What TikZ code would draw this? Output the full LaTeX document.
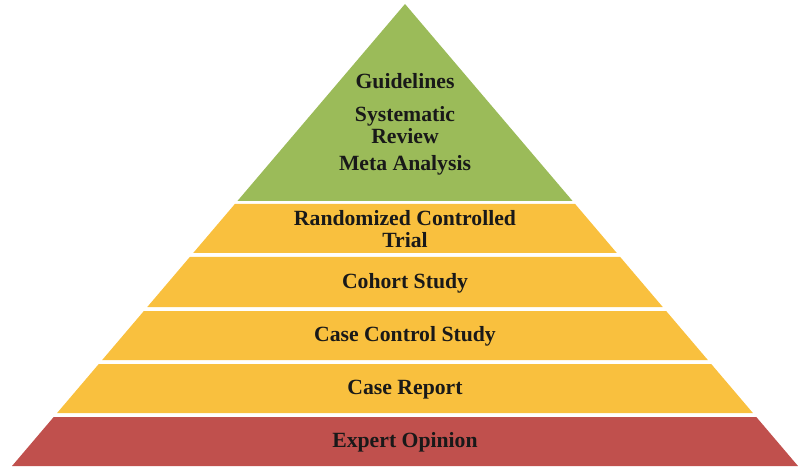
\documentclass[tikz,border=0pt]{standalone}
\usepackage{fontspec}
\setmainfont{Liberation Serif}
\usepackage{xcolor}
\usepackage{tikz}
\usetikzlibrary{calc}
\definecolor{topgreen}{HTML}{9BBB59}
\definecolor{midyellow}{HTML}{F9C03E}
\definecolor{basered}{HTML}{C0504D}
\tikzset{
  tierlabel/.style={font=\fontsize{21.7}{22}\selectfont\bfseries, text=black!90,
                    align=center, inner sep=0pt},
  baselabel/.style={tierlabel, anchor=base}
}

\begin{document}
\begin{tikzpicture}[x=1pt,y=1pt]
  \useasboundingbox (0,0) rectangle (799,466);
  % tiers, bottom to top
  \foreach \lo/\hi/\col in {0/49/basered, 53/102/midyellow, 106/155/midyellow,
                             159/209/midyellow, 213/262/midyellow}{
    \fill[\col] ({405-0.8506*(462-\lo)},\lo) -- ({405+0.8506*(462-\lo)},\lo)
      -- ({405+0.8506*(462-\hi)},\hi) -- ({405-0.8506*(462-\hi)},\hi) -- cycle;
  }
  \fill[topgreen] ({405-0.8506*(462-265)},265) -- ({405+0.8506*(462-265)},265)
    -- (405,462) -- cycle;

  \node[baselabel] (expert) at (405,18.5) {Expert Opinion};
  \node[baselabel] (report) at (405,71.5) {Case Report};
  \node[baselabel] (control) at (405,124.5) {Case Control Study};
  \node[baselabel] (cohort) at (405,177.5) {Cohort Study};
  \node[tierlabel] (rct) at (405,237) {Randomized Controlled\\Trial};
  \node[baselabel] (meta) at (405,295.5) {Meta Analysis};
  \node[tierlabel] (sysrev) at (405,340.5) {Systematic\\Review};
  \node[baselabel] (guide) at (405,377) {Guidelines};
\end{tikzpicture}
\end{document}
